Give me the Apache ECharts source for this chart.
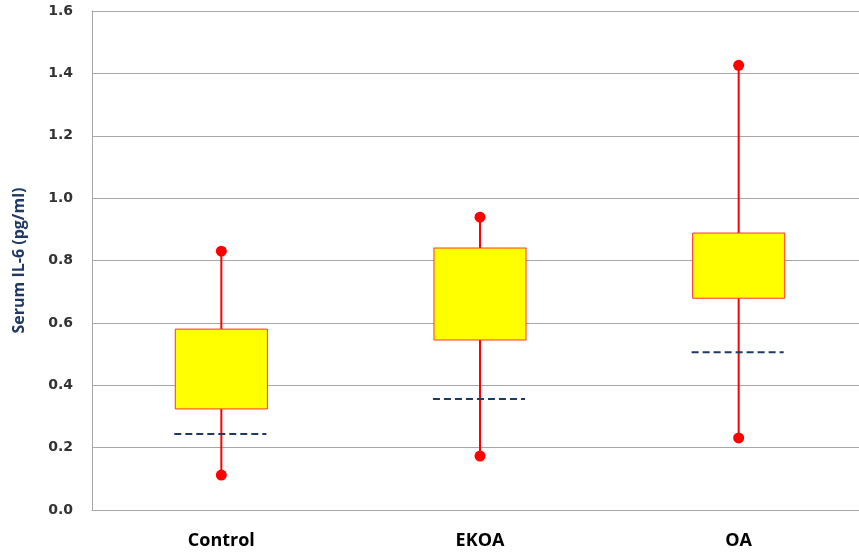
<!DOCTYPE html>
<html>
<head>
<meta charset="utf-8">
<script src="https://cdn.jsdelivr.net/npm/echarts@6/dist/echarts.min.js"></script>
<style>
  html, body { margin: 0; padding: 0; background: #fff; }
  #chart { width: 859px; height: 552px; }
</style>
</head>
<body>
<div id="chart"></div>
<script>
  // values
  var categories = ['Control', 'EKOA', 'OA'];
  var whiskerLow = [0.112, 0.173, 0.231];
  var boxLow = [0.324, 0.545, 0.679];
  var boxHigh = [0.580, 0.840, 0.888];
  var whiskerHigh = [0.830, 0.939, 1.426];
  var dashLine = [0.244, 0.356, 0.506];
  var yTicks = [0, 0.2, 0.4, 0.6, 0.8, 1.0, 1.2, 1.4, 1.6];

  var rows = categories.map(function (c, i) {
    return [i, whiskerLow[i], boxLow[i], boxHigh[i], whiskerHigh[i], dashLine[i]];
  });

  var chart = echarts.init(document.getElementById('chart'));

  function renderBox(params, api) {
    var x = api.value(0);
    var band = api.size([1, 0])[0];
    var half = band * 0.178;
    var pMin = api.coord([x, api.value(1)]);
    var pQ1 = api.coord([x, api.value(2)]);
    var pQ3 = api.coord([x, api.value(3)]);
    var pMax = api.coord([x, api.value(4)]);
    var pDash = api.coord([x, api.value(5)]);
    var cx = pMin[0];
    return {
      type: 'group',
      children: [
        {
          type: 'line',
          shape: { x1: cx, y1: pMin[1], x2: cx, y2: pMax[1] },
          style: { stroke: '#ff0000', lineWidth: 2 }
        },
        {
          type: 'rect',
          shape: { x: cx - half, y: pQ3[1], width: half * 2, height: pQ1[1] - pQ3[1] },
          style: { fill: '#ffff00', stroke: '#ff3333', lineWidth: 1 }
        },
        {
          type: 'circle',
          shape: { cx: cx, cy: pMax[1], r: 5.5 },
          style: { fill: '#ff0000' }
        },
        {
          type: 'circle',
          shape: { cx: cx, cy: pMin[1], r: 5.5 },
          style: { fill: '#ff0000' }
        },
        {
          type: 'line',
          shape: { x1: cx - half - 1, y1: pDash[1], x2: cx + half - 1, y2: pDash[1] },
          style: { stroke: '#1f3864', lineWidth: 2, lineDash: [7, 4] }
        }
      ]
    };
  }

  var option = {
    animation: false,
    backgroundColor: '#fff',
    // plot area runs a little past the right edge of the picture
    grid: { left: 92, width: 776, top: 11, bottom: 42, outerBoundsMode: 'none' },
    xAxis: {
      type: 'category',
      data: categories,
      boundaryGap: true,
      axisLine: { lineStyle: { color: '#a6a6a6', width: 1 } },
      axisTick: { show: false },
      axisLabel: {
        margin: 22,
        color: '#000',
        fontWeight: 'bold',
        fontSize: 18,
        fontFamily: 'Open Sans'
      }
    },
    yAxis: {
      type: 'value',
      min: 0,
      max: 1.6,
      interval: 0.2,
      name: 'Serum IL-6 (pg/ml)',
      nameLocation: 'middle',
      nameGap: 65,
      nameRotate: 90,
      nameTextStyle: {
        color: '#1f3864',
        fontWeight: 'bold',
        fontSize: 16,
        fontFamily: 'Open Sans'
      },
      axisLine: { show: true, lineStyle: { color: '#a6a6a6', width: 1 } },
      axisTick: { show: false },
      splitLine: { lineStyle: { color: '#a6a6a6', width: 1 } },
      axisLabel: {
        margin: 19,
        color: '#333',
        fontWeight: 'bold',
        fontSize: 14,
        fontFamily: 'DejaVu Sans',
        formatter: function (v) {
          var t = yTicks.filter(function (k) { return Math.abs(k - v) < 1e-6; });
          return t.length ? t[0].toFixed(1) : '';
        }
      }
    },
    series: [
      {
        type: 'custom',
        renderItem: renderBox,
        encode: { x: 0, y: [1, 2, 3, 4, 5] },
        data: rows,
        clip: false
      }
    ]
  };

  chart.setOption(option);
</script>
</body>
</html>
